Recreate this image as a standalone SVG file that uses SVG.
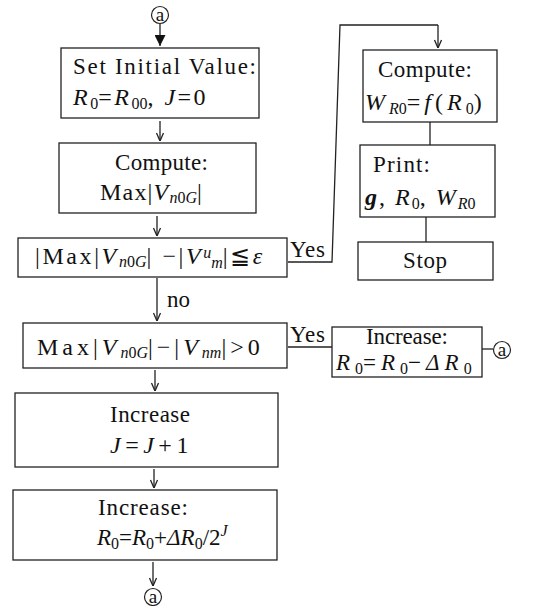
<svg xmlns="http://www.w3.org/2000/svg" width="534" height="606" viewBox="0 0 534 606">
<style>
.box{fill:none;stroke:#222;stroke-width:1.3}
.ln{fill:none;stroke:#222;stroke-width:1.3}
.t{font-family:"Liberation Serif","Times New Roman",serif;font-size:23px;fill:#111}
.f{font-size:24px}
.i{font-style:italic}
.s{font-size:16px;letter-spacing:0}
.c{fill:#fff;stroke:#222;stroke-width:1.2}
.ct{font-family:"Liberation Serif",serif;font-size:19px;fill:#111;text-anchor:middle}
</style>
<defs>
<marker id="ah" viewBox="0 0 10 10" refX="10" refY="5" markerWidth="10" markerHeight="10" markerUnits="userSpaceOnUse" orient="auto">
<path d="M2,1.5 L10,5 L2,8.5" fill="none" stroke="#222" stroke-width="1.3"/>
</marker>
<marker id="ahb" viewBox="0 0 10 10" refX="10" refY="5" markerWidth="11" markerHeight="11" markerUnits="userSpaceOnUse" orient="auto">
<path d="M0,0 L10,5 L0,10 Z" fill="#111"/>
</marker>
</defs>

<g id="connectors">
<line class="ln" x1="160" y1="24" x2="160" y2="46" stroke-width="2.2" marker-end="url(#ahb)"/>
<line class="ln" x1="160" y1="121" x2="160" y2="141" marker-end="url(#ah)"/>
<line class="ln" x1="157" y1="216" x2="157" y2="236" marker-end="url(#ah)"/>
<line class="ln" x1="157" y1="278" x2="157" y2="321" marker-end="url(#ah)"/>
<line class="ln" x1="155" y1="370" x2="155" y2="391" marker-end="url(#ah)"/>
<line class="ln" x1="154" y1="469" x2="154" y2="488" marker-end="url(#ah)"/>
<line class="ln" x1="153" y1="562" x2="153" y2="586" marker-end="url(#ah)"/>
<polyline class="ln" points="288,262 332,262 340,25 438,25"/>
<line class="ln" x1="438" y1="25" x2="438" y2="48" marker-end="url(#ah)"/>
<line class="ln" x1="430" y1="122" x2="430" y2="145"/>
<line class="ln" x1="426" y1="217" x2="426" y2="242"/>
<line class="ln" x1="288" y1="347" x2="332" y2="347"/>
<line class="ln" x1="482" y1="349" x2="493" y2="349"/>
<text class="t" x="290" y="257" textLength="35" lengthAdjust="spacing">Yes</text>
<text class="t" x="290" y="342" textLength="35" lengthAdjust="spacing">Yes</text>
<text class="t" x="167" y="307">no</text>
</g>

<g id="a-top">
<circle class="c" cx="160" cy="15" r="8.5"/>
<text class="ct" x="160" y="21">a</text>
</g>

<g id="n1">
<rect class="box" x="61" y="48" width="198" height="70"/>
<text class="t" x="73" y="74" textLength="183" lengthAdjust="spacing">Set Initial Value:</text>
<text class="t f" x="73" y="105" letter-spacing="2.5"><tspan class="i">R</tspan><tspan class="s" dy="4">0</tspan><tspan dy="-4">=</tspan><tspan class="i">R</tspan><tspan class="s" dy="4">00</tspan><tspan dy="-4">,  </tspan><tspan class="i">J</tspan>=0</text>
</g>

<g id="n2">
<rect class="box" x="59" y="143" width="197" height="70"/>
<text class="t" x="115" y="170" textLength="93" lengthAdjust="spacing">Compute:</text>
<text class="t f" x="100" y="200" letter-spacing="1.2">Max|<tspan class="i">V</tspan><tspan class="s" dy="3"><tspan class="i">n</tspan>0<tspan class="i">G</tspan></tspan><tspan dy="-3">|</tspan></text>
</g>

<g id="n3">
<rect class="box" x="18" y="238" width="269" height="39"/>
<text class="t f" x="35" y="264" letter-spacing="2.6">|Max|<tspan class="i">V</tspan><tspan class="s" dy="3"><tspan class="i">n</tspan>0<tspan class="i">G</tspan></tspan><tspan dy="-3">|  −|</tspan><tspan class="i">V</tspan><tspan class="s i" dy="-6">u</tspan><tspan class="s i" dy="10">m</tspan><tspan dy="-4">|≦</tspan><tspan class="i">ε</tspan></text>
</g>

<g id="n4">
<rect class="box" x="23" y="323" width="264" height="45"/>
<text class="t f" x="37" y="355" letter-spacing="4">Max|<tspan class="i">V</tspan><tspan class="s" dy="3"><tspan class="i">n</tspan>0<tspan class="i">G</tspan></tspan><tspan dy="-3">|−|</tspan><tspan class="i">V</tspan><tspan class="s i" dy="3">nm</tspan><tspan dy="-3">|&gt;0</tspan></text>
</g>

<g id="n5">
<rect class="box" x="15" y="393" width="263" height="74"/>
<text class="t" x="110" y="422" textLength="80" lengthAdjust="spacing">Increase</text>
<text class="t f" x="110" y="453" letter-spacing="4.5"><tspan class="i">J</tspan>=<tspan class="i">J</tspan>+1</text>
</g>

<g id="n6">
<rect class="box" x="13" y="490" width="264" height="70"/>
<text class="t" x="98" y="515" textLength="90" lengthAdjust="spacing">Increase:</text>
<text class="t" x="97" y="545"><tspan class="i">R</tspan><tspan class="s" dy="4">0</tspan><tspan dy="-4">=</tspan><tspan class="i">R</tspan><tspan class="s" dy="4">0</tspan><tspan dy="-4">+</tspan><tspan class="i">ΔR</tspan><tspan class="s" dy="4">0</tspan><tspan dy="-4">/2</tspan><tspan class="s i" dy="-9">J</tspan></text>
</g>

<g id="a-bottom">
<circle class="c" cx="153" cy="597" r="8.5"/>
<text class="ct" x="153" y="603">a</text>
</g>

<g id="n7">
<rect class="box" x="363" y="50" width="134" height="72"/>
<text class="t" x="378" y="77" textLength="94" lengthAdjust="spacing">Compute:</text>
<text class="t f" x="365" y="110" letter-spacing="4"><tspan class="i">W</tspan><tspan class="s i" dy="4">R</tspan><tspan class="s">0</tspan><tspan dy="-4">=</tspan><tspan class="i">f</tspan>(<tspan class="i">R</tspan><tspan class="s" dy="4">0</tspan><tspan dy="-4">)</tspan></text>
</g>

<g id="n8">
<rect class="box" x="360" y="145" width="135" height="72"/>
<text class="t" x="373" y="172" textLength="57" lengthAdjust="spacing">Print:</text>
<text class="t f" x="365" y="205" letter-spacing="2"><tspan class="i" font-weight="bold">g</tspan>,  <tspan class="i">R</tspan><tspan class="s" dy="4">0</tspan><tspan dy="-4">,  </tspan><tspan class="i">W</tspan><tspan class="s i" dy="4">R</tspan><tspan class="s">0</tspan></text>
</g>

<g id="n9">
<rect class="box" x="358" y="242" width="135" height="38"/>
<text class="t" x="403" y="268" textLength="44" lengthAdjust="spacing">Stop</text>
</g>

<g id="n10">
<rect class="box" x="332" y="327" width="150" height="50"/>
<text class="t" x="366" y="344" font-size="21" textLength="82" lengthAdjust="spacing">Increase:</text>
<text class="t" x="336" y="370" font-size="22" letter-spacing="5"><tspan class="i">R</tspan><tspan class="s" dy="4">0</tspan><tspan dy="-4">=</tspan><tspan class="i">R</tspan><tspan class="s" dy="4">0</tspan><tspan dy="-4">−</tspan><tspan class="i">ΔR</tspan><tspan class="s" dy="4">0</tspan></text>
</g>

<g id="a-right">
<circle class="c" cx="502" cy="350" r="8.5"/>
<text class="ct" x="502" y="356">a</text>
</g>
</svg>
